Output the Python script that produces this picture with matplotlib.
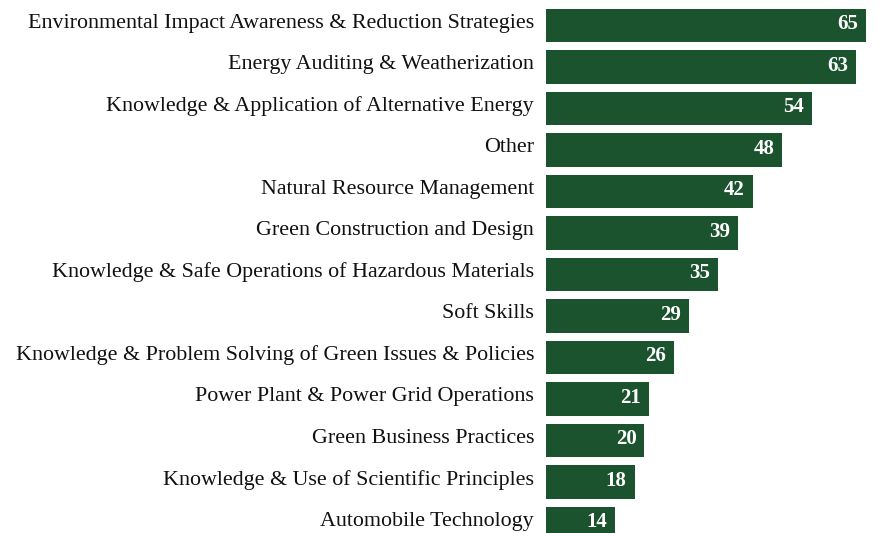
import matplotlib
matplotlib.use("Agg")
import matplotlib.pyplot as plt
from matplotlib.transforms import ScaledTranslation

categories = [
    "Environmental Impact Awareness & Reduction Strategies",
    "Energy Auditing & Weatherization",
    "Knowledge & Application of Alternative Energy",
    "Other",
    "Natural Resource Management",
    "Green Construction and Design",
    "Knowledge & Safe Operations of Hazardous Materials",
    "Soft Skills",
    "Knowledge & Problem Solving of Green Issues & Policies",
    "Power Plant & Power Grid Operations",
    "Green Business Practices",
    "Knowledge & Use of Scientific Principles",
    "Automobile Technology",
]
values = [65, 63, 54, 48, 42, 39, 35, 29, 26, 21, 20, 18, 14]

BAR_COLOR = "#1a532e"
plt.rcParams["font.family"] = ["Liberation Serif", "DejaVu Serif"]

fig = plt.figure(figsize=(8.85, 5.33), dpi=100)
x0 = 546 / 885
ax = fig.add_axes([x0, 0, 1 - x0, 1])

ypos = list(range(len(categories)))
ax.barh(ypos, values, height=0.8, color=BAR_COLOR)

px_per_unit = (866 - 546) / 65
ax.set_xlim(0, (885 - 546) / px_per_unit)
pitch = 41.5
ax.set_ylim((533 - 25.5) / pitch, -25.5 / pitch)

ax.set_yticks(ypos)
ax.set_yticklabels(categories, fontsize=15.8, color="#111111")
ax.tick_params(axis="y", length=0, pad=8.6)
shift = ScaledTranslation(0, 0.045, fig.dpi_scale_trans)
for lbl in ax.get_yticklabels():
    lbl.set_transform(lbl.get_transform() + shift)
ax.set_xticks([])
for s in ax.spines.values():
    s.set_visible(False)

for y, v in zip(ypos, values):
    ax.annotate(str(v), xy=(v, y), xytext=(-5.8, 0.8), textcoords="offset points",
                ha="right", va="center", color="white", fontweight="bold",
                fontsize=15)

fig.savefig("out.png", dpi=100)
